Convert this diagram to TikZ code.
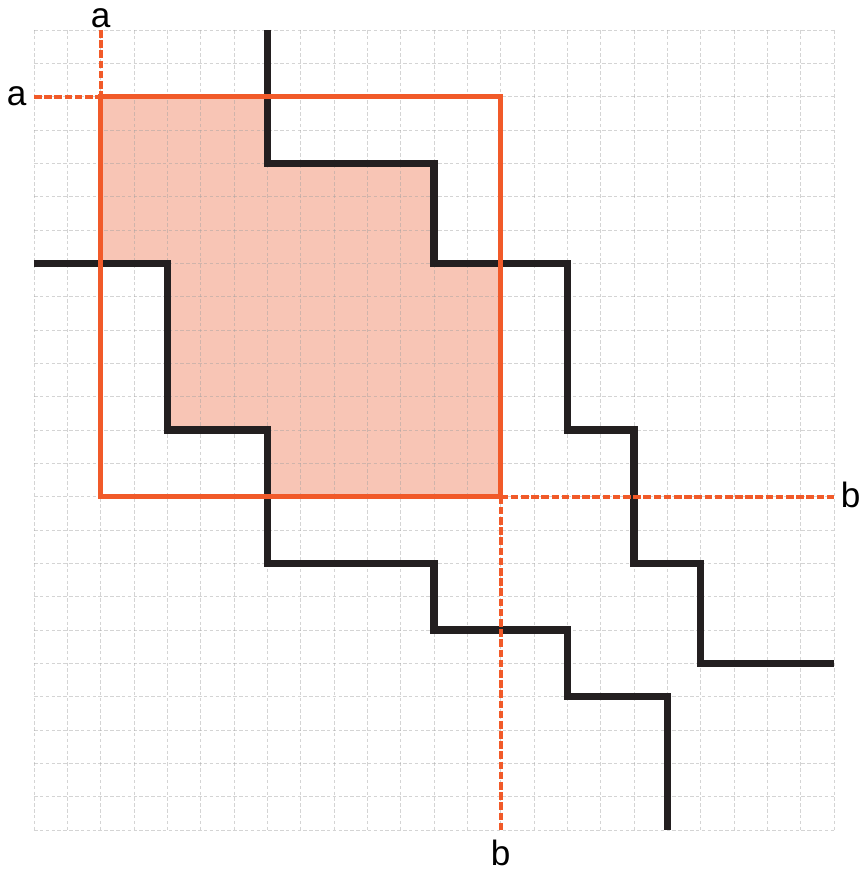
\documentclass[tikz,border=0pt]{standalone}
\usepackage{fontspec}
\setmainfont{Liberation Sans}
\definecolor{orng}{HTML}{F15A29}
\definecolor{pinkfill}{HTML}{F8C5B5}
\definecolor{blk}{HTML}{231F20}
\definecolor{gridgray}{HTML}{A0A0A0}
\begin{document}
\begin{tikzpicture}[x=1cm,y=-1cm,
  gridline/.style={draw=gridgray,draw opacity=0.45,line width=0.4pt,dash pattern=on 3pt off 2pt},
  stair/.style={draw=blk,line width=6pt},
  frame/.style={draw=orng,line width=4.6pt},
  guide/.style={draw=orng,line width=3.4pt,dash pattern=on 6.5pt off 2.2pt},
  lbl/.style={font=\fontsize{30}{34}\selectfont,inner sep=0pt}]
\useasboundingbox (-1.02,-0.9) rectangle (24.81,25.29);
% fill
\fill[pinkfill] (2,2) -- (7,2) -- (7,4) -- (12,4) -- (12,7) -- (14,7) -- (14,14) -- (7,14) -- (7,12) -- (4,12) -- (4,7) -- (2,7) -- cycle;
% grid
\foreach \i in {0,...,24} {
  \draw[gridline] (\i,0) -- (\i,24);
  \draw[gridline] (0,\i) -- (24,\i);
}
% staircases
\draw[stair] (7,0) -- (7,4) -- (12,4) -- (12,7) -- (16,7) -- (16,12) -- (18,12) -- (18,16) -- (20,16) -- (20,19) -- (24,19);
\draw[stair] (0,7) -- (4,7) -- (4,12) -- (7,12) -- (7,16) -- (12,16) -- (12,18) -- (16,18) -- (16,20) -- (19,20) -- (19,24);
% rectangle
\coordinate (A) at (2,2);
\coordinate (B) at (14,14);
\draw[frame] (A) rectangle (B);
% guides
\coordinate (aL) at (0,2);
\coordinate (aT) at (2,0);
\coordinate (bR) at (24,14);
\coordinate (bB) at (14,24);
\draw[guide] (aL) -- (A);
\draw[guide] (aT) -- (A);
\draw[guide] (B) -- (bR);
\draw[guide] (B) -- (bB);
% labels
\node[lbl] (la1) at (-0.52,2) {a};
\node[lbl] (la2) at (2,-0.34) {a};
\node[lbl] (lb1) at (24.5,13.95) {b};
\node[lbl] (lb2) at (14,24.68) {b};
\end{tikzpicture}
\end{document}
